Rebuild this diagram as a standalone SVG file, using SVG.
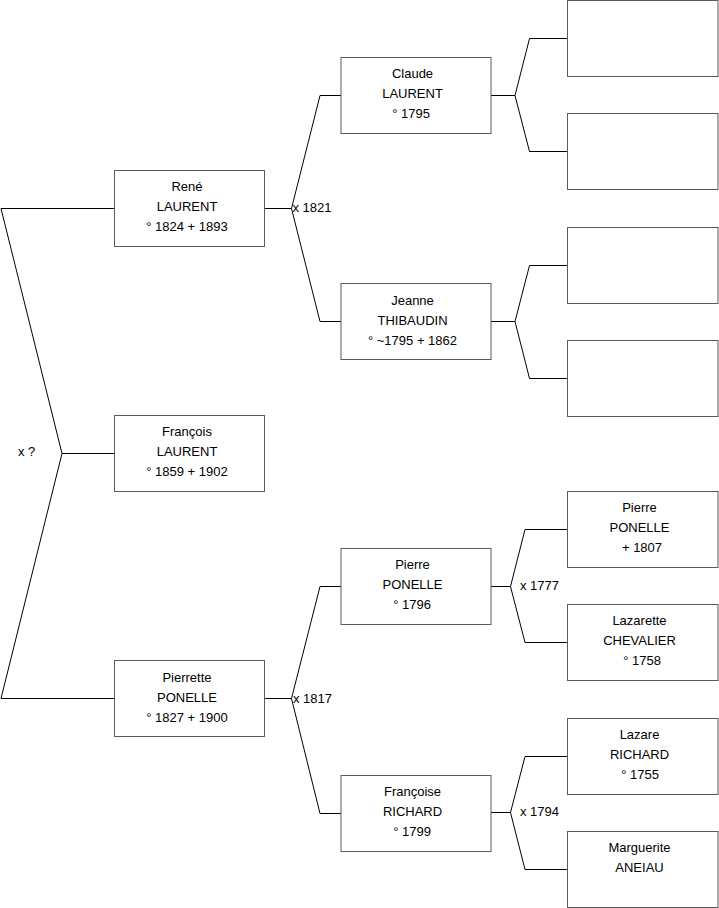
<svg xmlns="http://www.w3.org/2000/svg" width="719" height="908" viewBox="0 0 719 908">
<style>
  .box { fill: #ffffff; stroke: #5a5a5a; stroke-width: 1; }
  .line { fill: none; stroke: #000000; stroke-width: 1; }
  text { font-family: "Liberation Sans", Arial, sans-serif; font-size: 13px; fill: #000000; }
  .c { text-anchor: middle; }
</style>
<rect width="719" height="908" fill="#ffffff"/>
<g id="connectors">
  <polyline class="line" points="114,208.5 1,208.5 62,453.5 1,698.5 114,698.5"/>
  <line class="line" x1="62" y1="453.5" x2="114" y2="453.5"/>
  <polyline class="line" points="341,95.5 320,95.5 291.5,208.5 320,321.5 341,321.5"/>
  <line class="line" x1="265" y1="208.5" x2="291.5" y2="208.5"/>
  <polyline class="line" points="341,586.5 320,586.5 291.5,698.5 320,813.5 341,813.5"/>
  <line class="line" x1="265" y1="698.5" x2="291.5" y2="698.5"/>
  <polyline class="line" points="567,38.5 529.5,38.5 515,95.5 529.5,151.5 567,151.5"/>
  <line class="line" x1="491" y1="95.5" x2="515" y2="95.5"/>
  <polyline class="line" points="567,265.5 529.5,265.5 515,321.5 529.5,378.5 567,378.5"/>
  <line class="line" x1="491" y1="321.5" x2="515" y2="321.5"/>
  <polyline class="line" points="567,529.5 525,529.5 510.5,586.5 525,642.5 567,642.5"/>
  <line class="line" x1="491" y1="586.5" x2="510.5" y2="586.5"/>
  <polyline class="line" points="567,756.5 525,756.5 510.5,812.5 525,869.5 567,869.5"/>
  <line class="line" x1="491" y1="812.5" x2="510.5" y2="812.5"/>
  <text x="18" y="456">x ?</text>
  <text x="292.5" y="212">x 1821</text>
  <text x="293" y="703">x 1817</text>
  <text x="520" y="590">x 1777</text>
  <text x="520" y="816">x 1794</text>
</g>
<g id="rene">
  <rect class="box" x="114.5" y="170.5" width="150" height="76"/>
  <text class="c" x="187" y="191">René</text>
  <text class="c" x="187" y="211">LAURENT</text>
  <text class="c" x="187" y="231">° 1824 + 1893</text>
</g>
<g id="francois">
  <rect class="box" x="114.5" y="415.5" width="150" height="76"/>
  <text class="c" x="187" y="436">François</text>
  <text class="c" x="187" y="456">LAURENT</text>
  <text class="c" x="187" y="476">° 1859 + 1902</text>
</g>
<g id="pierrette">
  <rect class="box" x="114.5" y="660.5" width="150" height="76"/>
  <text class="c" x="187" y="682">Pierrette</text>
  <text class="c" x="187" y="702">PONELLE</text>
  <text class="c" x="187" y="722">° 1827 + 1900</text>
</g>
<g id="claude">
  <rect class="box" x="341" y="57.5" width="150" height="76"/>
  <text class="c" x="412.5" y="78">Claude</text>
  <text class="c" x="412.5" y="98">LAURENT</text>
  <text class="c" x="411" y="118">° 1795</text>
</g>
<g id="jeanne">
  <rect class="box" x="341" y="283.5" width="150" height="76"/>
  <text class="c" x="412.5" y="305">Jeanne</text>
  <text class="c" x="412.5" y="325">THIBAUDIN</text>
  <text class="c" x="412.5" y="345">° ~1795 + 1862</text>
</g>
<g id="pierre">
  <rect class="box" x="341" y="548.5" width="150" height="76"/>
  <text class="c" x="412.5" y="569">Pierre</text>
  <text class="c" x="412.5" y="589">PONELLE</text>
  <text class="c" x="412" y="609">° 1796</text>
</g>
<g id="francoise">
  <rect class="box" x="341" y="775.5" width="150" height="76"/>
  <text class="c" x="412.5" y="796">Françoise</text>
  <text class="c" x="412.5" y="816">RICHARD</text>
  <text class="c" x="412" y="836">° 1799</text>
</g>
<g id="unknown1">
  <rect class="box" x="567.5" y="0.5" width="150.5" height="76"/>
</g>
<g id="unknown2">
  <rect class="box" x="567.5" y="113.5" width="150.5" height="76"/>
</g>
<g id="unknown3">
  <rect class="box" x="567.5" y="227.5" width="150.5" height="76"/>
</g>
<g id="unknown4">
  <rect class="box" x="567.5" y="340.5" width="150.5" height="76"/>
</g>
<g id="pierre-ponelle-senior">
  <rect class="box" x="567.5" y="491.5" width="150.5" height="76"/>
  <text class="c" x="639.5" y="512">Pierre</text>
  <text class="c" x="639.5" y="532">PONELLE</text>
  <text class="c" x="642" y="552">+ 1807</text>
</g>
<g id="lazarette">
  <rect class="box" x="567.5" y="604.5" width="150.5" height="76"/>
  <text class="c" x="639.5" y="625">Lazarette</text>
  <text class="c" x="639.5" y="645">CHEVALIER</text>
  <text class="c" x="642" y="665">° 1758</text>
</g>
<g id="lazare">
  <rect class="box" x="567.5" y="718.5" width="150.5" height="76"/>
  <text class="c" x="639.5" y="739">Lazare</text>
  <text class="c" x="639.5" y="759">RICHARD</text>
  <text class="c" x="640" y="779">° 1755</text>
</g>
<g id="marguerite">
  <rect class="box" x="567.5" y="831.5" width="150.5" height="76"/>
  <text class="c" x="639.5" y="852">Marguerite</text>
  <text class="c" x="639.5" y="872">ANEIAU</text>
</g>
</svg>
